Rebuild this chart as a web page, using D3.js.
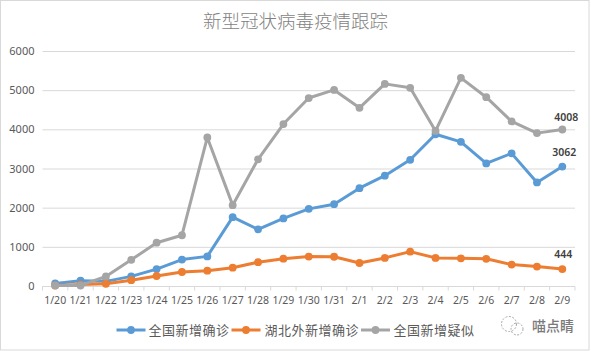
<!DOCTYPE html>
<html>
<head>
<meta charset="utf-8">
<script src="https://cdn.jsdelivr.net/npm/d3@7"></script>
<style>
  html, body { margin: 0; padding: 0; background: #fff; }
  svg { display: block; font-family: "Noto Sans CJK SC", "Noto Sans", sans-serif; }
</style>
</head>
<body>
<svg id="chart" width="591" height="351"></svg>
<script>
const dates = ["1/20","1/21","1/22","1/23","1/24","1/25","1/26","1/27","1/28","1/29","1/30","1/31","2/1","2/2","2/3","2/4","2/5","2/6","2/7","2/8","2/9"];
const national = [77,149,131,259,444,688,769,1771,1459,1737,1982,2102,2510,2829,3235,3887,3694,3143,3399,2656,3062];
const outsideHubei = [26,50,70,161,268,370,405,480,620,710,765,760,600,730,890,730,720,707,560,509,444];
const suspected = [27,26,257,680,1118,1309,3806,2077,3248,4148,4812,5019,4562,5173,5072,3971,5328,4833,4214,3916,4008];
const yTicks = [0,1000,2000,3000,4000,5000,6000];

var margin = { left: 42.5, right: 575, top: 51.5, bottom: 286.5 };
var svg = d3.select('#chart');

var x = d3.scaleBand().domain(dates).range([margin.left, margin.right]);
var y = d3.scaleLinear().domain([0, 6000]).range([margin.bottom, margin.top]);
var px = d => x(d) + x.bandwidth() / 2;

var series = [
    { name: '全国新增确诊', values: national, color: '#5b9bd5' },
    { name: '湖北外新增确诊', values: outsideHubei, color: '#ed7d31' },
    { name: '全国新增疑似', values: suspected, color: '#a5a5a5' }
];

// outer frame
svg.append('rect')
    .attr('x', 0.5).attr('y', 0.5)
    .attr('width', 588.5).attr('height', 349.5)
    .attr('fill', '#fff')
    .attr('stroke', '#d9d9d9');

svg.append('text')
    .attr('x', 295.5).attr('y', 28)
    .attr('text-anchor', 'middle')
    .attr('font-size', '18.5px')
    .attr('font-weight', 300)
    .attr('fill', '#7f7f7f')
    .text('新型冠状病毒疫情跟踪');

// gridlines + y labels
var yAxis = d3.axisLeft(y).tickValues(yTicks).offset(0).tickSize(-(margin.right - margin.left)).tickPadding(8).tickFormat(d3.format('d'));
var yG = svg.append('g').attr('transform', 'translate(' + margin.left + ',0)').call(yAxis);
yG.select('.domain').remove();
yG.selectAll('line').attr('stroke', '#d9d9d9').attr('stroke-width', 1);
yG.selectAll('text').attr('font-size', '11px').attr('fill', '#595959').attr('font-family', '"Noto Sans", sans-serif');

// x axis with ticks between the categories
var xAxis = d3.axisBottom(x).offset(0).tickSize(0).tickPadding(10);
var xG = svg.append('g').attr('transform', 'translate(0,' + margin.bottom + ')').call(xAxis);
xG.select('.domain').attr('stroke', '#d9d9d9');
xG.selectAll('text').attr('font-size', '10.5px').attr('fill', '#595959').attr('font-family', '"Noto Sans", sans-serif');
xG.selectAll('.sep')
    .data(dates.concat(['end']))
    .enter().append('line')
    .attr('class', 'sep')
    .attr('x1', (d, i) => margin.left + i * x.bandwidth())
    .attr('x2', (d, i) => margin.left + i * x.bandwidth())
    .attr('y1', 0).attr('y2', 4)
    .attr('stroke', '#d9d9d9');

var line = d3.line().x((d, i) => px(dates[i])).y(d => y(d));

series.forEach(function(s) {
    var g = svg.append('g');
    g.append('path')
        .attr('d', line(s.values))
        .attr('fill', 'none')
        .attr('stroke', s.color)
        .attr('stroke-width', 3)
        .attr('stroke-linejoin', 'round');
    g.selectAll('circle')
        .data(s.values)
        .enter().append('circle')
        .attr('cx', (d, i) => px(dates[i]))
        .attr('cy', d => y(d))
        .attr('r', 3.9)
        .attr('fill', s.color);
});

// end labels
[[suspected, -9, 1], [national, -11, -1], [outsideHubei, -11, -2]].forEach(function(l) {
    var v = l[0][l[0].length - 1];
    svg.append('text')
        .attr('x', px(dates[dates.length - 1]) + 3 + l[2])
        .attr('y', y(v) + l[1])
        .attr('text-anchor', 'middle')
        .attr('font-size', '10.5px')
        .attr('font-weight', 600)
        .attr('fill', '#404040')
        .attr('font-family', '"Noto Sans", sans-serif')
        .text(v);
});

// legend
var legendY = 330;
var legendPos = [{ x: 116.5, tx: 148.5 }, { x: 231.5, tx: 264.5 }, { x: 361, tx: 393.5 }];
series.forEach(function(s, i) {
    var g = svg.append('g').attr('transform', 'translate(' + legendPos[i].x + ',' + legendY + ')');
    g.append('line').attr('x1', 0).attr('x2', 29).attr('stroke', s.color).attr('stroke-width', 3);
    g.append('circle').attr('cx', 14.5).attr('r', 3.9).attr('fill', s.color);
    g.append('text')
        .attr('x', legendPos[i].tx - legendPos[i].x)
        .attr('y', 5)
        .attr('font-size', '13px')
        .attr('letter-spacing', '0.5px')
        .attr('fill', '#595959')
        .text(s.name);
});

// watermark
var mark = svg.append('g').attr('fill', 'none').attr('stroke', '#a8a8a8').attr('stroke-dasharray', '2 1.5');
mark.append('circle').attr('cx', 509).attr('cy', 324).attr('r', 7.5);
mark.append('circle').attr('cx', 517).attr('cy', 329).attr('r', 6);
svg.append('text')
    .attr('x', 532).attr('y', 331)
    .attr('font-size', '14px')
    .attr('font-weight', 500)
    .attr('fill', '#7a7a7a')
    .text('喵点睛');
</script>
</body>
</html>
